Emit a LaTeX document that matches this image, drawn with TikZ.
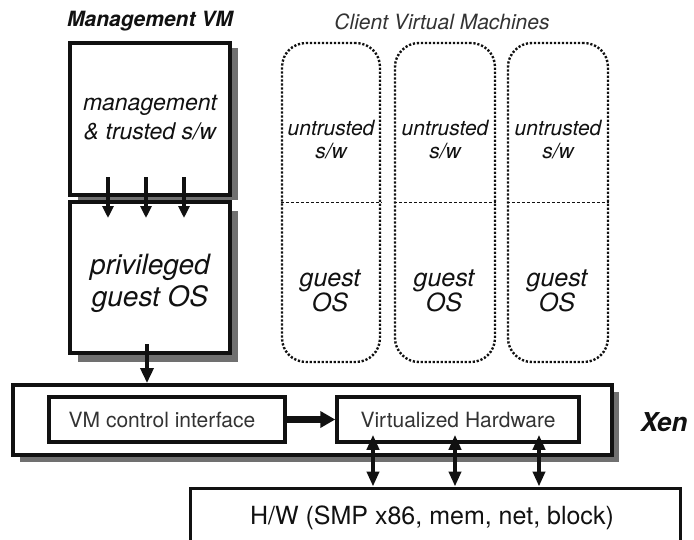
\documentclass[tikz,border=0pt]{standalone}
\usepackage{fontspec}
\setmainfont{TeX Gyre Heros}
\usetikzlibrary{arrows.meta,shadows,calc}
\definecolor{shadowgray}{HTML}{707070}
\definecolor{inkblack}{HTML}{111111}
\definecolor{titlegray}{HTML}{333333}
\tikzset{
  vmbox/.style={draw=inkblack, line width=4pt, fill=white, minimum width=160pt, inner sep=0pt},
  clientbox/.style={draw=inkblack, line width=2.4pt, dash pattern=on 2.2pt off 1.8pt, rounded corners=24pt,
    minimum height=319pt, inner sep=0pt},
  xenbox/.style={draw=inkblack, line width=4pt, fill=white, inner sep=0pt},
  innerbox/.style={draw=inkblack, line width=3.5pt, fill=white, inner sep=0pt, minimum height=45pt,
    font=\fontsize{21}{25}\selectfont, text=titlegray},
  hwbox/.style={draw=inkblack, line width=3pt, fill=white, inner sep=0pt},
  sepline/.style={draw=inkblack, line width=0.9pt, dash pattern=on 3pt off 2pt},
  arr/.style={draw=inkblack, line width=3.5pt, -{Triangle[width=11pt,length=12pt]}},
  bigarr/.style={draw=inkblack, line width=3.5pt, -{Triangle[width=13pt,length=15pt]}},
  thickarr/.style={draw=inkblack, line width=7pt, -{Triangle[width=16pt,length=15pt]}},
  dblarr/.style={draw=inkblack, line width=4pt, {Triangle[width=12pt,length=15pt]}-{Triangle[width=12pt,length=15pt]}},
  vmtext/.style={align=center, text=inkblack, inner sep=0pt},
}
\begin{document}
\begin{tikzpicture}[x=1pt,y=-1pt]
\useasboundingbox (0,0) rectangle (694,539);
\clip (0,0) rectangle (694,539);
\fill[white] (0,0) rectangle (694,539);

% titles
\node[text=inkblack, font=\fontsize{21}{25}\selectfont\bfseries\itshape] (mtitle) at (150,21) {Management VM};
\node[text=titlegray, font=\fontsize{21}{25}\selectfont\itshape] (ctitle) at (442,22) {Client Virtual Machines};

% management VM boxes
\node[vmbox, minimum height=152pt,
  drop shadow={shadow xshift=8pt, shadow yshift=-5pt, fill=shadowgray, opacity=1}] (mgmt) at (150,119) {};
\node[vmbox, minimum height=151pt,
  drop shadow={shadow xshift=8pt, shadow yshift=-9pt, fill=shadowgray, opacity=1}] (priv) at (150,277.5) {};
\node[vmtext, font=\fontsize{23}{29}\selectfont\itshape] (mgmttext) at (150,118) {management\\\& trusted s/w};
\node[vmtext, font=\fontsize{28}{32}\selectfont\itshape] (privtext) at (150,283) {privileged\\guest OS};

% client VMs
\node[clientbox, minimum width=98pt] (c1) at (331,202.5) {};
\node[clientbox, minimum width=100pt] (c2) at (445,202.5) {};
\node[clientbox, minimum width=100pt] (c3) at (558,202.5) {};
\foreach \c in {c1,c2,c3}{
  \draw[sepline] (\c.west) -- (\c.east);
  \node[vmtext, font=\fontsize{21}{23}\selectfont\itshape] (\c u) at ($(\c.center)+(0,-63)$) {untrusted\\s/w};
  \node[vmtext, font=\fontsize{25}{24}\selectfont\itshape] (\c g) at ($(\c.center)+(-1,88)$) {guest\\OS};
}

% Xen layer
\node[xenbox, minimum width=599pt, minimum height=70pt,
  drop shadow={shadow xshift=7pt, shadow yshift=-7pt, fill=shadowgray, opacity=1}] (xen) at (312.5,420) {};
\node[innerbox, minimum width=236pt] (vmci) at (167,419.5) {\hspace*{-10pt}VM control interface};
\node[innerbox, minimum width=242pt] (vh) at (458,419.5) {Virtualized Hardware};
\node[text=inkblack, font=\fontsize{26}{30}\selectfont\bfseries\itshape] (xenlabel) at (664,422) {Xen};

% hardware
\node[hwbox, minimum width=490pt, minimum height=82pt] (hw) at (435,529) {};
\node[text=inkblack, font=\fontsize{25}{29}\selectfont] (hwtext) at (432,518) {H/W (SMP x86, mem, net, block)};

% arrows
\foreach \dx in {-42,-4,34}{
  \draw[arr] ($(mgmt.south)+(\dx,-20)$) -- ($(priv.north)+(\dx,18)$);
}
\draw[bigarr] ($(priv.south)+(-3,-11)$) coordinate (p1) -- (p1 |- xen.north);
\draw[thickarr] (vmci.east) -- (vh.west);
\foreach \dx/\n in {-85/a,-3/b,81/c}{
  \draw[dblarr] ($(vh.south)+(\dx,-9)$) coordinate (d\n) -- (d\n |- hw.north);
}
\end{tikzpicture}
\end{document}
